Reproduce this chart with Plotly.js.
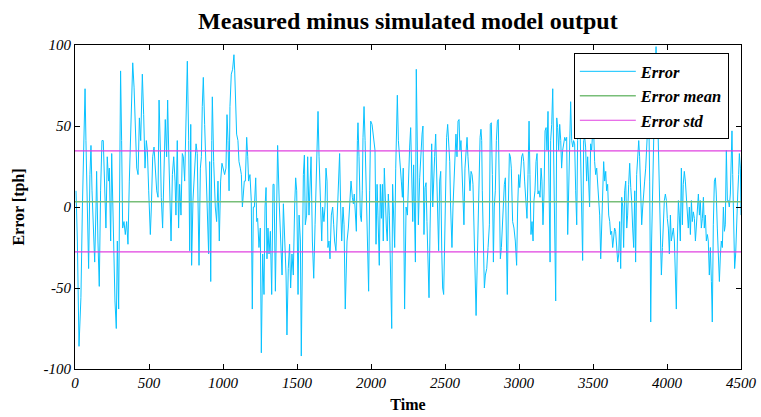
<!DOCTYPE html>
<html><head><meta charset="utf-8">
<script src="https://cdn.plot.ly/plotly-3.0.1.min.js"></script>
<style>html,body{margin:0;padding:0;background:#fff}#chart{width:761px;height:417px}</style>
</head><body><div id="chart"></div>
<script>
const time = [7,16,27,40,50,61,68,74,83,92,101,108,115,124,133,142,146,155,164,173,182,191,200,209,218,227,232,241,248,254,263,270,279,286,295,304,308,315,322,331,340,349,358,367,376,383,390,399,405,417,426,435,444,450,
455,464,473,482,489,498,509,516,525,534,543,552,561,568,577,583,592,601,610,619,626,633,642,649,658,667,676,682,691,700,707,716,725,732,741,752,759,768,775,782,788,797,809,818,826,838,847,854,860,867,876,885,894,903,910,
917,924,928,937,948,957,966,975,984,993,1002,1011,1020,1027,1034,1041,1047,1056,1065,1074,1079,1086,1092,1101,1108,1117,1124,1131,1137,1144,1151,1160,1167,1173,1182,1191,1198,1205,1212,1221,1228,1234,1243,1252,1259,1268,1277,1284,1291,1297,1304,1311,1320,1329,1338,1345,1354,1363,1369,
1381,1390,1399,1408,1417,1426,1432,1441,1450,1457,1466,1475,1484,1491,1498,1507,1514,1523,1529,1536,1543,1550,1556,1565,1572,1581,1588,1595,1604,1613,1622,1631,1635,1642,1649,1658,1667,1673,1682,1689,1696,1703,1709,1716,1723,1732,1741,1748,1754,1763,1772,1779,1788,1795,1802,1811,1818,1826,
1838,1847,1856,1865,1874,1881,1887,1894,1901,1908,1912,1919,1928,1935,1941,1946,1953,1960,1969,1975,1984,1991,1998,2007,2014,2020,2027,2034,2041,2047,2056,2063,2070,2077,2083,2090,2097,2104,2110,2117,2124,2131,2140,2146,2153,2160,2167,2173,2178,2185,2191,2198,2205,2212,2218,2227,2237,2246,2255,2261,2268,2275,2282,2288,
2300,2306,2313,2320,2329,2338,2345,2351,2358,2365,2372,2378,2385,2392,2399,2405,2410,2417,2424,2430,2437,2444,2451,2457,2464,2471,2478,2484,2491,2498,2505,2511,2518,2525,2532,2538,2547,2554,2561,2568,2574,2581,2588,2595,2601,2608,2615,2622,2628,2635,2642,2649,2655,2662,2669,2676,2683,2689,2696,2703,2710,2716,2723,2730,2737,2743,2748,
2752,2759,2766,2773,2782,2791,2800,2806,2813,2820,2827,2833,2840,2847,2854,2860,2867,2874,2881,2888,2894,2901,2908,2915,2921,2928,2935,2942,2948,2957,2966,2975,2984,2991,2998,3005,3011,3018,3025,3032,3038,3045,3054,3061,3068,3074,3081,3088,3095,3101,3108,3115,3122,3128,3135,3142,3149,3155,3162,3169,3176,3183,3189,3196,3203,3210,
3214,3221,3228,3234,3241,3248,3255,3261,3268,3275,3282,3288,3295,3302,3309,3315,3322,3329,3336,3342,3349,3356,3363,3369,3376,3383,3390,3396,3403,3410,3417,3423,3430,3437,3444,3450,3457,3464,3471,3477,3484,3491,3498,3505,3511,3518,3525,3532,3538,3545,3552,3559,3565,3572,3579,3586,3592,3599,3606,3613,3619,3626,3633,3640,3646,3653,3660,3667,
3674,3680,3687,3694,3701,3707,3714,3721,3728,3734,3741,3748,3755,3761,3768,3775,3782,3788,3795,3802,3809,3815,3822,3829,3836,3842,3849,3856,3863,3869,3876,3883,3890,3896,3903,3910,3917,3926,3935,3942,3948,3955,3962,3969,3975,3982,3989,3996,4002,4009,4016,4023,4029,4036,4043,4050,4056,4063,4070,4077,4083,4090,4097,4104,4110,4117,4124,
4131,4138,4144,4151,4158,4165,4171,4178,4185,4192,4198,4205,4212,4219,4225,4232,4239,4246,4252,4259,4266,4273,4279,4286,4293,4300,4306,4313,4320,4327,4333,4340,4347,4354,4361,4367,4374,4381,4388,4394,4401,4408,4415,4421,4428,4435,4439,4444,4451,4457,4464,4471,4478,4484,4489,4496,4500];

const error = [10,-21,-86,-56,0,53,73,41,-13,-38,20,38,10,-13,-34,0,22,-21,-49,10,41,41,4,-13,31,16,24,-21,33,10,-42,-58,-75,-21,-63,20,84,41,-13,-9,-17,-9,-23,16,41,68,89,74,57,24,20,55,41,66,
82,57,24,41,35,10,-17,0,31,37,24,10,6,66,35,6,-13,31,54,31,66,35,-5,-21,20,31,16,-5,41,-13,14,-5,33,31,16,62,90,41,-27,51,-36,4,26,39,33,-36,24,31,62,80,51,20,-9,-29,28,
-46,41,68,28,0,-9,16,-21,16,27,24,20,24,57,41,10,62,82,85,94,84,68,45,41,28,24,20,0,12,16,16,43,31,16,20,4,-63,0,0,18,-9,-7,-25,-13,-90,-29,-54,0,12,-32,-13,-29,-15,-54,14,14,-52,10,38,
0,-21,-42,2,-21,-42,-79,-38,-23,-50,-29,-42,0,18,10,-54,-5,-21,-92,-32,20,32,-11,-5,31,-5,20,31,-21,-44,-11,16,41,59,31,8,-21,0,-9,0,24,16,-25,-21,-32,-5,0,-11,-21,-27,-5,20,33,0,-21,0,-11,-63,
-21,-13,6,16,6,2,8,-5,-15,41,52,31,-5,-9,10,43,62,41,10,-21,-52,10,53,51,45,37,35,-23,14,-5,-36,14,-7,14,-21,24,0,-13,-21,8,-5,-32,-75,14,-5,-25,24,49,69,41,31,24,16,6,24,-63,0,-5,24,37,49,20,-9,26,
-34,85,41,-11,18,37,45,50,-17,12,15,-9,-42,-56,-13,20,39,0,26,31,45,24,0,-27,16,22,-27,-50,-54,-21,14,43,51,41,28,0,-25,0,20,35,45,31,53,54,35,41,26,12,-11,24,33,43,31,16,10,22,20,14,-13,-29,-67,-42,-5,14,43,48,41,
10,-17,-50,-42,-38,-25,-11,51,52,20,-34,0,10,41,53,54,20,-32,-25,-13,4,14,18,-21,-54,0,33,31,24,-9,-13,-21,-36,0,20,12,22,31,33,28,16,4,-7,20,53,20,-17,-9,-21,4,10,28,33,8,10,6,24,16,-11,8,47,49,35,59,0,-34,
41,51,73,28,-27,-58,55,49,35,51,41,24,35,41,43,41,43,-17,20,51,65,41,37,41,39,10,-11,41,64,62,31,-11,-33,41,43,37,16,31,8,0,39,35,47,45,28,20,24,14,8,-5,-32,-13,10,28,16,22,10,14,-5,-9,-17,-15,-25,-17,-13,-15,-23,-34,
-29,-9,-38,6,0,-25,10,16,-13,-5,14,27,12,4,-13,-25,10,-34,20,35,41,31,4,-11,0,10,16,24,35,47,62,16,-71,-21,16,51,72,99,62,51,8,-11,-42,-25,-7,4,8,4,-7,-13,-29,-5,-21,-17,-13,-21,-50,-63,-21,4,-5,-21,24,-11,14,22,16,
6,-5,-13,0,-17,4,-9,-3,-7,-21,-13,0,8,-5,4,-13,-7,6,-13,-5,-21,-17,-21,-42,-25,-46,-71,-11,16,18,8,-13,-32,-46,-29,-21,-25,0,-15,-11,35,4,4,0,8,41,47,20,-21,-38,-29,0,8,20,33,24,-5];

const timeRange = [0, 4500];
const errorMean = 3.3;
const stdUpper = 34.6;
const stdLower = -27.7;
const xTicks = [0,500,1000,1500,2000,2500,3000,3500,4000,4500];
const yTicks = [-100,-50,0,50,100];

const serif = 'Liberation Serif, Times New Roman, serif';
const traces = [
  {x: time, y: error, type: 'scatter', mode: 'lines', name: 'Error',
   line: {color: '#08C2FF', width: 1}},
  {x: timeRange, y: [errorMean, errorMean], type: 'scatter', mode: 'lines', name: 'Error mean',
   line: {color: '#78BE78', width: 1.5}},
  {x: [timeRange[0], timeRange[1], null, timeRange[0], timeRange[1]],
   y: [stdUpper, stdUpper, null, stdLower, stdLower], type: 'scatter', mode: 'lines', name: 'Error std',
   line: {color: '#E040E0', width: 1.2}}
];
const axisCommon = {
  showline: true, linecolor: '#000', linewidth: 1, mirror: 'ticks',
  ticks: 'inside', ticklen: 5, tickcolor: '#000', showgrid: false, zeroline: false,
  tickfont: {family: serif, size: 15, style: 'italic', color: '#000'}
};
const layout = {
  width: 761, height: 417,
  margin: {l: 75, r: 20, t: 45, b: 48},
  paper_bgcolor: '#fff', plot_bgcolor: '#fff',
  title: {text: 'Measured minus simulated model output', x: 0.536, xanchor: 'center', y: 0.95, yanchor: 'middle',
          font: {family: serif, size: 24, weight: 'bold', color: '#000'}},
  xaxis: Object.assign({}, axisCommon, {range: timeRange, tickvals: xTicks, ticktext: xTicks.map(String),
          title: {text: 'Time', standoff: 8, font: {family: serif, size: 16, weight: 'bold', color: '#000'}}}),
  yaxis: Object.assign({}, axisCommon, {range: [-100, 100], tickvals: yTicks, ticktext: yTicks.map(String),
          title: {text: 'Error [tph]', standoff: 14, font: {family: serif, size: 16, weight: 'bold', color: '#000'}}}),
  showlegend: true,
  legend: {x: 0.749, y: 0.975, xanchor: 'left', yanchor: 'top', bgcolor: '#fff', bordercolor: '#000', borderwidth: 1,
           itemwidth: 56, tracegroupgap: 0,
           font: {family: serif, size: 16.5, style: 'italic', weight: 'bold', color: '#000'}}
};
Plotly.newPlot('chart', traces, layout, {displayModeBar: false, staticPlot: true});
</script></body></html>
